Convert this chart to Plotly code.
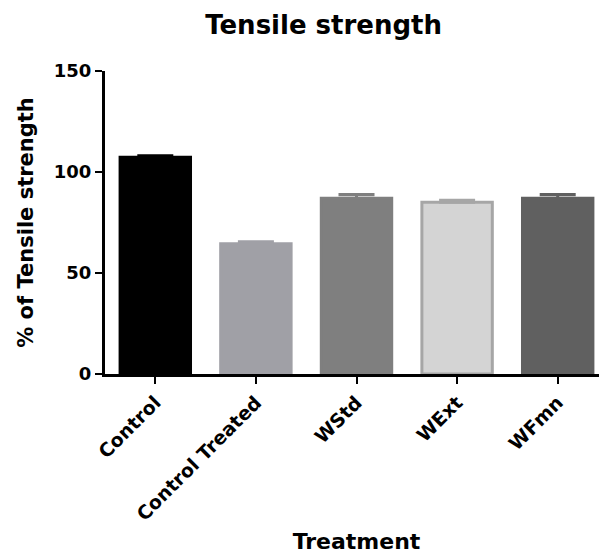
import plotly.graph_objects as go

categories = ["Control", "Control Treated", "WStd", "WExt", "WFmn"]
values = [107.3, 64.5, 87.0, 85.0, 87.0]
errors = [0.8, 1.0, 1.8, 1.0, 1.8]
fill_colors = ["#000000", "#a0a0a6", "#7f7f7f", "#d4d4d4", "#606060"]
line_colors = ["#000000", "#a0a0a6", "#7f7f7f", "#a6a6a6", "#606060"]
y_ticks = [0, 50, 100, 150]

fig = go.Figure()
for c, v, e, fc, lc in zip(categories, values, errors, fill_colors, line_colors):
    fig.add_trace(go.Bar(
        x=[c], y=[v],
        marker=dict(color=fc, line=dict(color=lc, width=3)),
        error_y=dict(type="data", array=[e], symmetric=False, arrayminus=[0],
                     color=lc, thickness=3, width=18),
        width=0.7,
        showlegend=False,
    ))

font_family = "DejaVu Sans, Verdana, sans-serif"
fig.update_layout(
    width=607, height=560,
    margin=dict(l=97, r=7, t=63, b=194, autoexpand=False),
    plot_bgcolor="white", paper_bgcolor="white",
    title=dict(text="<b>Tensile strength</b>", x=0.52, xanchor="center", y=0.986, yanchor="top",
               font=dict(family=font_family, size=26, color="black")),
    font=dict(family=font_family, color="black"),
)
fig.update_xaxes(
    categoryorder="array", categoryarray=categories,
    range=[-0.5, 4.5],
    showline=True, linecolor="black", linewidth=3,
    ticks="outside", ticklen=7, tickwidth=2, tickcolor="black",
    tickangle=-45,
    tickfont=dict(family=font_family, size=19, color="black"),
    ticktext=["<b>%s</b>" % c for c in categories], tickvals=categories,
    title=dict(text="<b>Treatment</b>", font=dict(family=font_family, size=22), standoff=10),
    showgrid=False, zeroline=False, automargin=False,
)
fig.update_yaxes(
    range=[0, 150],
    tickvals=y_ticks, ticktext=["<b>%d</b>" % t for t in y_ticks],
    showline=True, linecolor="black", linewidth=3,
    ticks="outside", ticklen=7, tickwidth=2, tickcolor="black",
    tickfont=dict(family=font_family, size=18, color="black"),
    title=dict(text="<b>% of Tensile strength</b>", font=dict(family=font_family, size=21), standoff=15),
    showgrid=False, zeroline=False, automargin=False,
)

fig.write_html("out.html")
